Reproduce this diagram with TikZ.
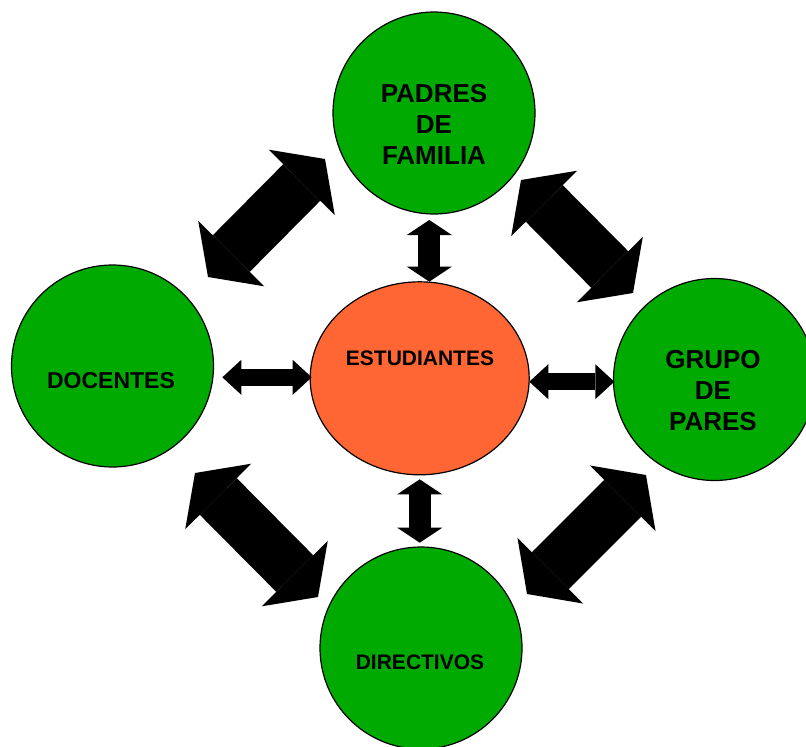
\documentclass[tikz,border=0pt]{standalone}
\usepackage{fontspec}
\setmainfont{Liberation Sans}
\usetikzlibrary{shapes.geometric,arrows.meta}
\definecolor{verde}{RGB}{0,170,0}
\definecolor{naranja}{RGB}{255,102,51}
\begin{document}
\begin{tikzpicture}[x=0.75pt,y=-0.75pt,
  every node/.style={inner sep=0pt, outer sep=0pt, font=\bfseries},
  circulo/.style={circle, draw=black, line width=0.9pt, fill=verde, minimum size=151.5pt},
  grande/.style={align=center, font=\fontsize{19.5}{23.25}\selectfont\bfseries},
  chico/.style={font=\fontsize{15.75}{19}\selectfont\bfseries},
  flechagrande/.style={line width=39pt, >={Triangle[length=24.75pt,width=69.75pt,line width=0pt]}, <->},
  flechah/.style={line width=12.75pt, >={Triangle[length=14.25pt,width=26.25pt,line width=0pt]}, <->},
  flechav/.style={line width=16.5pt, >={Triangle[length=11.25pt,width=33.75pt,line width=0pt]}, <->}]
\useasboundingbox (0,0) rectangle (806,746);

\node[circulo] (padres) at (434,113) {};
\node[circulo] (docentes) at (112.5,366) {};
\node[circulo] (grupo) at (714.5,379.5) {};
\node[circulo] (directivos) at (421,648) {};
\node[ellipse, draw=black, line width=0.9pt, fill=naranja, minimum width=164.25pt, minimum height=144.75pt] (estudiantes) at (419.7,378.3) {};

\node[grande] (tpadres) at (434,124) {PADRES\\DE\\FAMILIA};
\node[grande] (tgrupo) at (713,391) {GRUPO\\DE\\PARES};
\node[chico, font=\fontsize{17.25}{20}\selectfont\bfseries] (tdocentes) at (111,381) {DOCENTES};
\node[chico] (tdirectivos) at (420,662.6) {DIRECTIVOS};
\node[chico] (testudiantes) at (420,358) {ESTUDIANTES};

\coordinate (pd1) at (208,277);
\coordinate (pd2) at (325,159);
\coordinate (pg1) at (521,180);
\coordinate (pg2) at (633,293);
\coordinate (dd1) at (195,473);
\coordinate (dd2) at (318,597);
\coordinate (gd1) at (646,475);
\coordinate (gd2) at (527,594);
\coordinate (ed1) at (222.3,377.3);
\coordinate (ed2) at (311.7,377.3);
\coordinate (eg1) at (529.3,381.7);
\coordinate (eg2) at (614.3,381.7);
\coordinate (ep1) at (429.3,220);
\coordinate (ep2) at (429.3,281.7);
\coordinate (ei1) at (419.7,479.3);
\coordinate (ei2) at (419.7,542.7);

\draw[flechagrande] (pd1) -- (pd2);
\draw[flechagrande] (pg1) -- (pg2);
\draw[flechagrande] (dd1) -- (dd2);
\draw[flechagrande] (gd1) -- (gd2);
\draw[flechah] (ed1) -- (ed2);
\draw[flechah] (eg1) -- (eg2);
\draw[flechav] (ep1) -- (ep2);
\draw[flechav] (ei1) -- (ei2);
\end{tikzpicture}
\end{document}
